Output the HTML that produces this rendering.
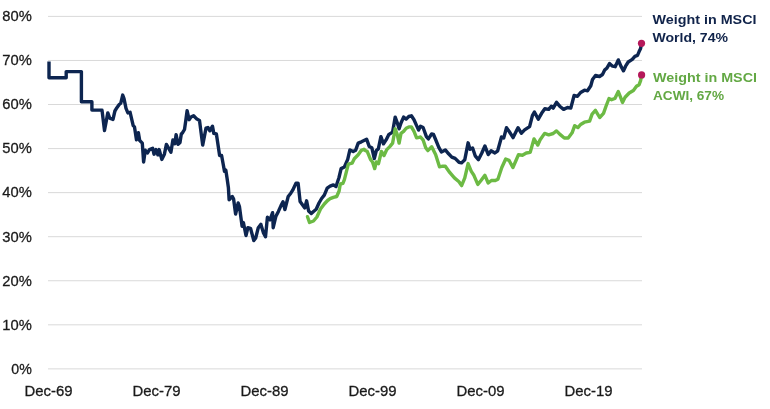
<!DOCTYPE html>
<html><head><meta charset="utf-8"><style>
html,body{margin:0;padding:0;background:#fff;}
body{width:770px;height:409px;overflow:hidden;}
svg{display:block;font-family:"Liberation Sans",sans-serif;}
text{-webkit-font-smoothing:antialiased;}
</style></head><body>
<svg width="770" height="409" viewBox="0 0 770 409">
<defs><filter id="gs" x="0" y="0" width="770" height="409" filterUnits="userSpaceOnUse"><feOffset dx="0" dy="0"/></filter></defs>
<rect width="770" height="409" fill="#fff"/>
<g>
<line x1="48" y1="16.4" x2="642" y2="16.4" stroke="#d9d9d9" stroke-width="1"/>
<line x1="48" y1="60.46" x2="642" y2="60.46" stroke="#d9d9d9" stroke-width="1"/>
<line x1="48" y1="104.52000000000001" x2="642" y2="104.52000000000001" stroke="#d9d9d9" stroke-width="1"/>
<line x1="48" y1="148.58" x2="642" y2="148.58" stroke="#d9d9d9" stroke-width="1"/>
<line x1="48" y1="192.64000000000001" x2="642" y2="192.64000000000001" stroke="#d9d9d9" stroke-width="1"/>
<line x1="48" y1="236.70000000000002" x2="642" y2="236.70000000000002" stroke="#d9d9d9" stroke-width="1"/>
<line x1="48" y1="280.76" x2="642" y2="280.76" stroke="#d9d9d9" stroke-width="1"/>
<line x1="48" y1="324.82" x2="642" y2="324.82" stroke="#d9d9d9" stroke-width="1"/>
<line x1="48" y1="368.88" x2="642" y2="368.88" stroke="#d9d9d9" stroke-width="1"/>
</g>
<g font-size="15.5" fill="#1a1a1a" stroke="#1a1a1a" stroke-width="0.3" filter="url(#gs)">
<text x="31.8" y="21.2" text-anchor="end" font-size="15.5" textLength="29.5" lengthAdjust="spacingAndGlyphs">80%</text>
<text x="31.8" y="65.3" text-anchor="end" font-size="15.5" textLength="29.5" lengthAdjust="spacingAndGlyphs">70%</text>
<text x="31.8" y="109.3" text-anchor="end" font-size="15.5" textLength="29.5" lengthAdjust="spacingAndGlyphs">60%</text>
<text x="31.8" y="153.4" text-anchor="end" font-size="15.5" textLength="29.5" lengthAdjust="spacingAndGlyphs">50%</text>
<text x="31.8" y="197.4" text-anchor="end" font-size="15.5" textLength="29.5" lengthAdjust="spacingAndGlyphs">40%</text>
<text x="31.8" y="241.5" text-anchor="end" font-size="15.5" textLength="29.5" lengthAdjust="spacingAndGlyphs">30%</text>
<text x="31.8" y="285.6" text-anchor="end" font-size="15.5" textLength="29.5" lengthAdjust="spacingAndGlyphs">20%</text>
<text x="31.8" y="329.6" text-anchor="end" font-size="15.5" textLength="29.5" lengthAdjust="spacingAndGlyphs">10%</text>
<text x="31.8" y="373.7" text-anchor="end" font-size="15.5" textLength="20.5" lengthAdjust="spacingAndGlyphs">0%</text>
<text x="48.5" y="396.1" text-anchor="middle" font-size="15.2" textLength="48" lengthAdjust="spacingAndGlyphs">Dec-69</text>
<text x="156.5" y="396.1" text-anchor="middle" font-size="15.2" textLength="48" lengthAdjust="spacingAndGlyphs">Dec-79</text>
<text x="264.5" y="396.1" text-anchor="middle" font-size="15.2" textLength="48" lengthAdjust="spacingAndGlyphs">Dec-89</text>
<text x="372.5" y="396.1" text-anchor="middle" font-size="15.2" textLength="48" lengthAdjust="spacingAndGlyphs">Dec-99</text>
<text x="480.5" y="396.1" text-anchor="middle" font-size="15.2" textLength="48" lengthAdjust="spacingAndGlyphs">Dec-09</text>
<text x="588.5" y="396.1" text-anchor="middle" font-size="15.2" textLength="48" lengthAdjust="spacingAndGlyphs">Dec-19</text>
</g>
<polyline points="49.0,61.6 49.0,77.8 66.2,77.8 66.2,71.6 81.4,71.6 81.4,101.7 91.9,101.7 91.9,110.1 102.0,110.1 104.5,130.5 107.8,112.9 109.7,118.1 113.0,119.4 114.9,111.0 116.9,107.7 119.2,104.5 120.8,103.2 122.7,95.1 124.0,98.6 126.0,108.4 127.9,112.9 130.1,112.3 133.2,125.6 134.5,126.9 136.5,139.9 138.4,132.7 139.7,140.5 142.3,143.1 143.6,162.0 145.3,150.3 147.5,152.9 149.5,149.6 152.7,148.3 154.0,154.2 156.0,149.6 157.9,154.8 159.2,149.6 161.8,159.4 164.4,154.2 166.4,144.4 168.3,147.7 170.9,152.2 172.9,139.9 174.8,143.8 176.1,134.7 178.1,144.4 180.0,142.5 181.3,134.0 182.6,132.7 184.5,129.5 185.8,120.4 187.1,110.6 189.1,119.7 191.0,117.1 193.6,115.8 196.9,119.1 199.5,120.4 202.7,145.1 206.0,128.2 207.9,127.5 209.9,130.8 212.5,126.2 213.8,133.4 216.4,134.0 219.6,155.5 221.6,155.5 223.2,164.3 224.5,171.4 225.8,170.1 227.1,178.6 228.4,187.7 229.1,199.7 232.3,196.5 233.6,199.1 235.6,214.0 238.2,203.0 239.5,206.9 242.1,226.4 243.4,222.5 246.0,235.5 247.9,227.7 250.5,228.3 253.8,240.6 255.7,238.0 258.3,227.7 260.9,224.4 263.5,232.9 265.5,236.8 267.4,217.3 270.0,219.9 272.6,212.7 273.2,227.7 275.8,216.6 278.4,211.4 281.0,205.6 283.0,201.7 284.9,209.5 288.2,196.5 290.8,193.2 292.7,190.2 296.0,183.1 298.1,183.1 300.1,201.5 302.8,205.2 304.8,207.9 306.6,200.8 308.6,211.0 311.3,213.5 313.5,211.5 316.2,209.3 319.0,203.0 321.6,198.5 324.3,195.2 327.2,188.2 330.1,186.2 333.4,184.9 336.0,186.5 339.0,177.5 341.1,168.6 344.4,167.0 347.7,159.3 349.9,149.9 353.2,151.6 355.6,150.3 358.2,143.1 361.4,141.8 364.0,140.5 366.6,139.2 369.2,146.4 371.8,147.7 374.3,158.5 376.4,150.3 378.3,149.0 380.9,136.6 383.5,143.8 386.1,139.9 388.7,134.7 390.6,133.4 392.6,132.1 395.2,117.1 397.1,122.3 399.1,128.8 401.0,123.0 403.6,117.1 406.2,119.1 408.8,116.5 411.4,115.8 414.0,119.7 416.6,125.6 418.6,130.1 420.5,126.2 423.1,127.5 426.4,136.6 428.4,138.9 431.6,134.0 433.5,134.5 435.6,139.5 438.8,147.3 441.4,151.9 445.3,149.9 448.6,153.8 451.8,157.1 455.1,158.4 459.0,162.3 461.6,162.9 464.8,159.7 468.1,142.8 470.0,149.3 472.6,148.0 475.2,155.8 478.4,159.7 481.7,153.2 484.9,146.0 488.3,154.6 491.1,150.8 494.9,153.0 497.7,150.8 501.5,137.0 503.7,138.1 506.5,127.7 509.2,131.5 513.1,137.6 518.0,127.7 521.3,133.2 524.6,129.9 529.6,126.6 532.4,115.6 534.4,112.0 538.3,119.2 541.6,113.3 544.8,108.8 548.7,109.4 551.3,106.2 553.2,108.1 556.5,102.3 559.7,106.2 563.6,109.4 567.5,107.5 570.8,108.1 574.1,95.5 577.5,96.3 580.6,92.5 584.5,90.2 587.5,90.8 590.8,85.8 592.5,79.5 595.5,75.5 599.5,76.5 602.5,74.5 604.8,69.8 606.9,68.2 609.5,63.6 612.6,66.2 615.2,66.7 618.3,59.9 620.9,66.2 623.5,70.8 625.6,66.2 628.2,62.0 632.3,59.4 634.9,56.3 637.5,55.3 639.1,51.6 640.6,48.5 641.5,43.3" fill="none" stroke="#0d2550" stroke-width="3.4" stroke-linejoin="round" stroke-linecap="butt"/>
<polyline points="307.5,216.7 309.5,222.5 313.5,221.0 316.9,217.0 320.5,209.0 324.3,204.0 327.6,200.5 330.1,198.7 333.4,197.4 336.7,196.5 339.1,191.0 340.3,184.0 342.9,183.4 344.4,179.6 348.3,164.2 352.1,163.2 354.3,158.7 358.2,154.8 361.4,150.3 364.0,149.3 365.3,150.5 367.3,151.6 370.5,159.4 372.5,162.0 374.7,168.6 376.3,162.0 378.5,163.7 381.4,151.5 384.0,155.5 386.8,149.6 390.0,146.4 392.6,143.1 395.2,128.8 397.1,134.0 399.1,143.1 401.0,133.4 403.6,131.4 406.2,128.2 408.8,126.9 411.4,126.9 414.0,131.4 416.6,137.9 419.2,137.3 420.5,137.0 423.2,140.2 425.7,147.7 427.8,150.6 431.7,146.7 435.6,154.5 439.5,166.8 442.7,166.2 445.3,166.2 449.9,172.7 454.4,177.9 459.0,181.8 461.6,185.6 464.8,177.9 468.1,163.6 471.3,171.4 473.9,175.3 477.8,184.4 481.0,180.5 484.9,175.3 488.2,183.0 491.4,180.5 495.3,180.5 497.9,179.2 501.8,167.5 505.7,159.0 509.0,160.3 512.9,167.5 516.1,160.3 518.5,154.6 522.4,155.2 526.3,153.0 530.2,152.4 534.0,138.9 537.8,145.0 540.0,140.0 544.6,133.4 548.7,134.8 553.2,133.5 556.5,130.9 559.7,134.1 564.3,138.0 568.2,138.0 572.1,132.8 574.7,125.7 577.9,127.6 580.6,124.5 584.4,122.2 589.6,121.1 592.1,114.1 595.4,110.3 599.7,117.5 603.5,113.4 606.1,106.0 609.0,98.5 611.6,99.7 614.9,98.5 618.3,91.5 620.9,98.2 622.5,102.4 625.1,97.2 629.2,93.0 633.4,90.5 636.5,86.3 639.1,84.7 640.6,80.6 641.7,74.9" fill="none" stroke="#6cba44" stroke-width="3.4" stroke-linejoin="round" stroke-linecap="round"/>
<circle cx="641.5" cy="43.3" r="3.6" fill="#b5185a"/>
<circle cx="641.6" cy="74.9" r="3.6" fill="#b5185a"/>
<g font-size="13" font-weight="bold" filter="url(#gs)">
<text x="652.5" y="23.8" fill="#10234a" textLength="104" lengthAdjust="spacingAndGlyphs">Weight in MSCI</text>
<text x="652.5" y="42.4" fill="#10234a" textLength="75.5" lengthAdjust="spacingAndGlyphs">World, 74%</text>
<text x="653" y="81.8" fill="#63a844" textLength="104" lengthAdjust="spacingAndGlyphs">Weight in MSCI</text>
<text x="653" y="100.2" fill="#63a844" textLength="71" lengthAdjust="spacingAndGlyphs">ACWI, 67%</text>
</g>
</svg>
</body></html>
